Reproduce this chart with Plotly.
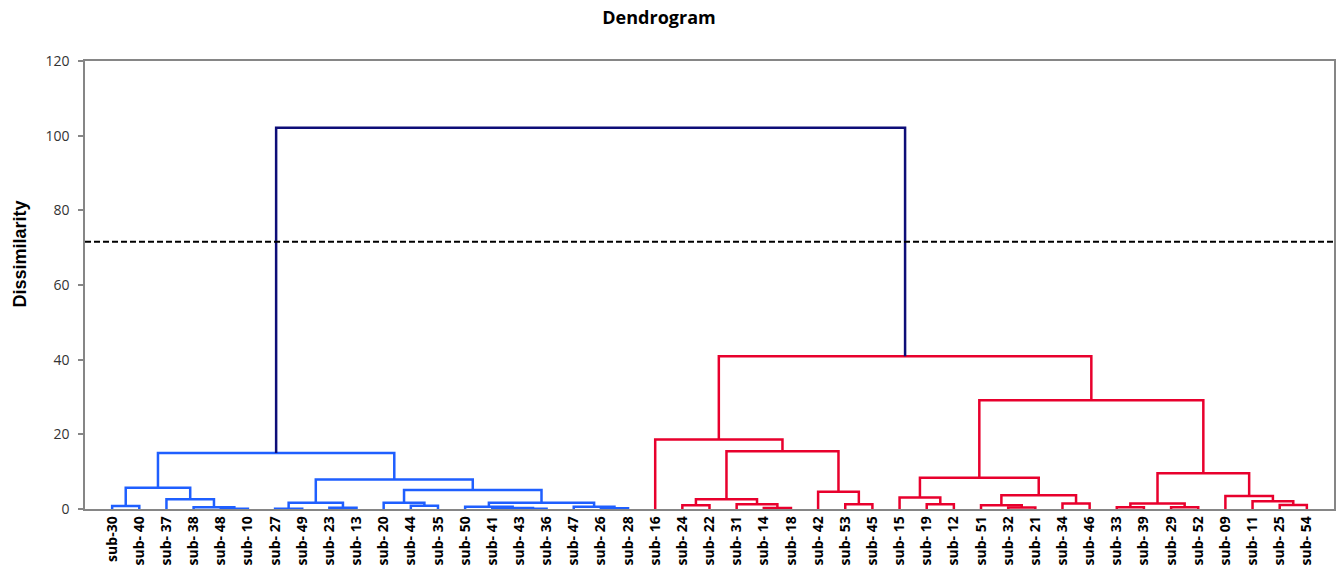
import plotly.graph_objects as go

# ---------------- data ----------------
leaf_labels = [
    "sub-30", "sub- 40", "sub- 37", "sub- 38", "sub- 48", "sub- 10", "sub- 27",
    "sub- 49", "sub- 23", "sub- 13", "sub- 20", "sub- 44", "sub- 35", "sub- 50",
    "sub- 41", "sub- 43", "sub- 36", "sub- 47", "sub- 26", "sub- 28", "sub- 16",
    "sub- 24", "sub- 22", "sub- 31", "sub- 14", "sub- 18", "sub- 42", "sub- 53",
    "sub- 45", "sub- 15", "sub- 19", "sub- 12", "sub- 51", "sub- 32", "sub- 21",
    "sub- 34", "sub- 46", "sub- 33", "sub- 39", "sub- 29", "sub- 52", "sub- 09",
    "sub- 11", "sub- 25", "sub- 54",
]

merge_names = [
    "m1", "m2", "m3", "m4", "m5", "m6", "m7", "m8", "m9", "m10",
    "m11", "m12", "m13", "m14", "m15", "m16", "m17", "m18", "m19",
    "r1", "r2", "r3", "r4", "r5", "r6", "r7", "r8", "r9", "r10",
    "r11", "r12", "r13", "r14", "r15", "r16", "r17", "r18", "r19", "r20",
    "r21", "r22", "r23", "r24", "root",
]
merge_left = [
    "sub-30", "sub- 48", "sub- 38", "sub- 37", "m1", "sub- 27", "sub- 23", "m6",
    "sub- 44", "sub- 20", "sub- 43", "sub- 41", "sub- 50", "sub- 26", "sub- 47",
    "m13", "m10", "m8", "m5",
    "sub- 24", "sub- 14", "sub- 31", "r1", "sub- 53", "sub- 42", "r4", "sub- 16",
    "sub- 19", "sub- 15", "sub- 32", "sub- 51", "sub- 34", "r12", "r10",
    "sub- 33", "sub- 29", "r16", "sub- 25", "sub- 11", "sub- 09", "r18", "r15",
    "r8", "m19",
]
merge_right = [
    "sub- 40", "sub- 10", "m2", "m3", "m4", "sub- 49", "sub- 13", "m7",
    "sub- 35", "m9", "sub- 36", "m11", "m12", "sub- 28", "m14",
    "m15", "m16", "m17", "m18",
    "sub- 22", "sub- 18", "r2", "r3", "sub- 45", "r5", "r6", "r7",
    "sub- 12", "r9", "sub- 21", "r11", "sub- 46", "r13", "r14",
    "sub- 39", "sub- 52", "r17", "sub- 54", "r19", "r20", "r21", "r22",
    "r23", "r24",
]
merge_height = [
    0.8, 0.1, 0.45, 2.6, 5.7, 0.1, 0.35, 1.7, 0.9, 1.7,
    0.1, 0.3, 0.6, 0.2, 0.6, 1.7, 5.1, 7.9, 15.0,
    1.0, 0.27, 1.25, 2.6, 1.25, 4.6, 15.5, 18.6, 1.3, 3.1,
    0.4, 1.0, 1.5, 3.7, 8.4, 0.45, 0.5, 1.5, 1.1, 2.1,
    3.5, 9.6, 29.1, 40.9, 102.1,
]
merge_group = ["blue"] * 19 + ["red"] * 24 + ["root"]

cut_height = 71.6
y_ticks = [0, 20, 40, 60, 80, 100, 120]

# ---------------- build ----------------
colors = {"blue": "#1f5fff", "red": "#e8002d", "root": "#0d0d78"}

pos = {lab: (i, 0.0) for i, lab in enumerate(leaf_labels)}
segs = {g: ([], []) for g in colors}
for name, l, r, h, g in zip(merge_names, merge_left, merge_right, merge_height, merge_group):
    xl, yl = pos[l]
    xr, yr = pos[r]
    xs, ys = segs[g]
    xs += [xl, xl, xr, xr, None]
    ys += [yl, h, h, yr, None]
    pos[name] = ((xl + xr) / 2, h)

fig = go.Figure()
for g in ["blue", "red", "root"]:
    xs, ys = segs[g]
    fig.add_trace(go.Scatter(
        x=xs, y=ys, mode="lines",
        line=dict(color=colors[g], width=2.5),
        hoverinfo="skip", showlegend=False,
    ))

fig.add_hline(y=cut_height, line=dict(color="black", width=2, dash="6px,3px"))

W, H = 1340, 566
axis_gray = "#868686"
fig.update_layout(
    width=W, height=H,
    margin=dict(l=85, r=6, t=61, b=57),
    plot_bgcolor="white", paper_bgcolor="white",
    title=dict(
        text="<b>Dendrogram</b>", x=659 / W, xref="container", xanchor="center",
        y=1 - 18 / H, yref="container", yanchor="middle",
        font=dict(family="Open Sans", size=18, color="black"),
    ),
    showlegend=False,
)
fig.add_annotation(
    text="<b>Dissimilarity</b>", textangle=-90,
    xref="paper", yref="paper", x=0, y=(509 - 254) / (509 - 61),
    xanchor="center", yanchor="middle", xshift=19.5 - 85, showarrow=False,
    font=dict(family="Liberation Sans", size=18, color="black"),
)
fig.update_xaxes(
    range=[-1, 45], automargin=False,
    tickmode="array", tickvals=list(range(len(leaf_labels))),
    ticktext=["<b>%s</b>" % t for t in leaf_labels],
    tickangle=-90, ticks="", showgrid=False, zeroline=False,
    showline=True, linecolor=axis_gray, linewidth=1.5, mirror=True,
    tickfont=dict(family="Open Sans", size=14, color="black"),
)
fig.update_yaxes(
    range=[0, 120], tickmode="array", tickvals=y_ticks, automargin=False,
    ticks="outside", ticklen=5, tickcolor=axis_gray, tickwidth=1.5,
    ticklabelstandoff=6,
    showgrid=False, zeroline=False,
    showline=True, linecolor=axis_gray, linewidth=1.5, mirror=True,
    tickfont=dict(family="Open Sans", size=14, color="#333333"),
)

fig.write_html(
    "out.html",
    config={"displayModeBar": False},
    post_script="document.body.style.margin='0';document.body.style.overflow='hidden';",
)
